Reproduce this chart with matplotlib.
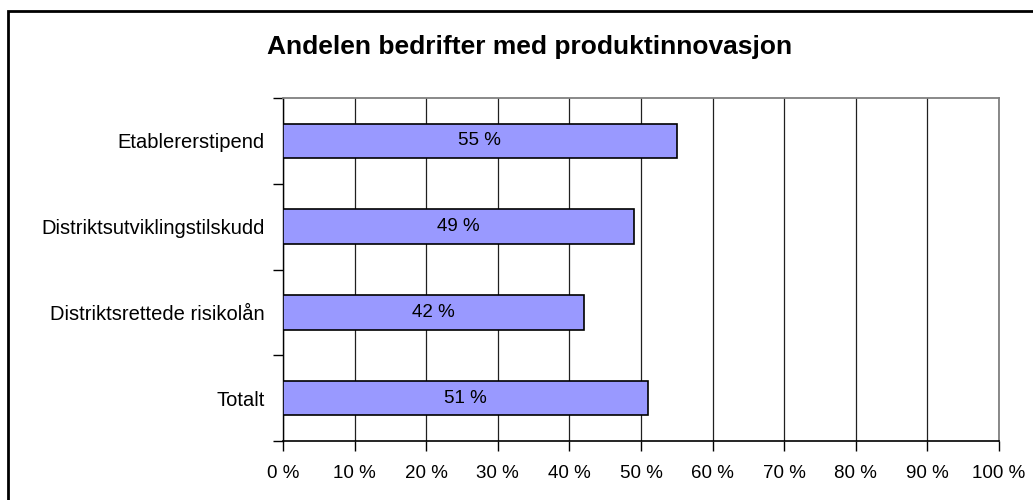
import matplotlib.pyplot as plt
from matplotlib.patches import Rectangle

categories = ["Totalt", "Distriktsrettede risikolån", "Distriktsutviklingstilskudd", "Etablererstipend"]
values = [51, 42, 49, 55]
x_ticks = [0, 10, 20, 30, 40, 50, 60, 70, 80, 90, 100]

plt.rcParams['font.family'] = ['Liberation Sans', 'DejaVu Sans']

fig = plt.figure(figsize=(10.33, 5), dpi=100)
ax = fig.add_axes([283 / 1033, 1 - 441 / 500, (999 - 283) / 1033, (441 - 98) / 500])

# ramme rundt hele figuren (går ut over høyre og nedre kant)
fig.patches.append(Rectangle((8 / 1033, -0.05), 1.1, 1 - 11 / 500 + 0.05,
                             transform=fig.transFigure, fill=False,
                             edgecolor='black', linewidth=2))

y_pos = range(len(categories))
ax.barh(y_pos, values, height=0.4, color='#9999FF', edgecolor='black', linewidth=1.2, zorder=3)

for i, v in enumerate(values):
    ax.text(v / 2, i, f"{v} %", ha='center', va='center', fontsize=13.5, zorder=4)

ax.set_xlim(0, 100)
ax.set_ylim(-0.5, len(categories) - 0.5)
ax.set_xticks(x_ticks)
ax.set_xticklabels([f"{t} %" for t in x_ticks], fontsize=13.5)
ax.set_yticks(list(y_pos))
ax.set_yticklabels(categories, fontsize=14.5)
ax.set_yticks([y - 0.5 for y in range(len(categories) + 1)], minor=True)
ax.tick_params(axis='y', which='major', length=0, pad=13)
ax.tick_params(axis='y', which='minor', length=7, width=1)
ax.tick_params(axis='x', length=7, width=1, pad=10)
ax.xaxis.grid(True, color='#202020', linewidth=0.9, zorder=0)

for s in ['top', 'right']:
    ax.spines[s].set_color('#808080')
    ax.spines[s].set_linewidth(1.3)
ax.spines['left'].set_linewidth(1)
ax.spines['bottom'].set_linewidth(1.2)

fig.text(530 / 1033, 1 - 47 / 500, "Andelen bedrifter med produktinnovasjon",
         ha='center', va='center', fontsize=19, fontweight='bold')

fig.savefig("out.png", dpi=100)
